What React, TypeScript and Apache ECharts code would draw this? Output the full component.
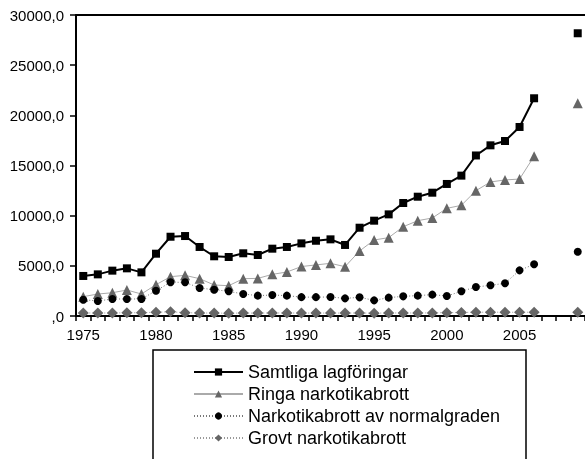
import React, { useEffect, useRef } from "react";
import * as echarts from "echarts";

const years: string[] = [];
for (let y = 1975; y <= 2009; y++) years.push(String(y));

const samtliga = [3990, 4150, 4520, 4750, 4350, 6210, 7900, 7970, 6880, 5950, 5880, 6250, 6080, 6710, 6880, 7240, 7500, 7640, 7080, 8800, 9500, 10130, 11260, 11890, 12290, 13160, 13990, 16000, 17010, 17440, 18840, 21700, null, null, 28180];
const ringa = [1930, 2190, 2320, 2590, 2190, 3120, 3920, 4050, 3720, 3090, 3020, 3720, 3750, 4150, 4385, 4930, 5090, 5250, 4915, 6480, 7575, 7810, 8900, 9500, 9770, 10730, 11030, 12490, 13360, 13560, 13650, 15920, null, null, 21200];
const normal = [1625, 1495, 1695, 1695, 1695, 2520, 3360, 3360, 2790, 2620, 2460, 2190, 2030, 2090, 2030, 1880, 1880, 1895, 1760, 1860, 1560, 1830, 1960, 2030, 2130, 1990, 2460, 2890, 3060, 3260, 4550, 5150, null, null, 6410];
const grovt = [300, 300, 300, 320, 330, 380, 420, 330, 300, 290, 280, 290, 290, 300, 300, 290, 290, 290, 290, 300, 280, 300, 300, 300, 310, 330, 350, 380, 380, 380, 370, 380, null, null, 380];

const names = ["Samtliga lagföringar", "Ringa narkotikabrott", "Narkotikabrott av normalgraden", "Grovt narkotikabrott"];
const FONT = "'Liberation Sans', Arial, sans-serif";

export default function App() {
  const ref = useRef<HTMLDivElement>(null);
  useEffect(() => {
    const chart = echarts.init(ref.current!, null, { renderer: "svg" });
    chart.setOption({
      animation: false,
      textStyle: { fontFamily: FONT },
      grid: { left: 76, top: 15, width: 510, height: 301, containLabel: false },
      graphic: [
        {
          type: "rect",
          shape: { x: 153, y: 350, width: 373, height: 140 },
          style: { fill: "#fff", stroke: "#000", lineWidth: 1.5 },
          z: 0,
        },
      ],
      legend: {
        orient: "vertical",
        left: 193,
        top: 363,
        padding: 0,
        itemWidth: 49,
        itemHeight: 9,
        itemGap: 4,
        data: names,
        textStyle: { fontFamily: FONT, fontSize: 18, color: "#000", lineHeight: 18 },
        z: 5,
      },
      xAxis: [
        {
          type: "category",
          data: years,
          boundaryGap: true,
          axisLine: { lineStyle: { color: "#000", width: 2 } },
          axisTick: { show: true, interval: 0, length: 5, lineStyle: { color: "#000", width: 1.5 } },
          axisLabel: { interval: 4, color: "#000", fontSize: 15, fontFamily: FONT, margin: 11 },
          splitLine: { show: false },
        },
        {
          type: "category",
          data: years,
          position: "top",
          axisLine: { lineStyle: { color: "#000", width: 2 } },
          axisTick: { show: false },
          axisLabel: { show: false },
        },
      ],
      yAxis: {
        type: "value",
        min: 0,
        max: 30000,
        interval: 5000,
        axisLine: { show: true, lineStyle: { color: "#000", width: 2 } },
        axisTick: { show: true, length: 6, lineStyle: { color: "#000", width: 1.5 } },
        axisLabel: {
          color: "#000",
          fontSize: 15,
          fontFamily: FONT,
          margin: 12,
          formatter: (v: number) => (v === 0 ? ",0" : v + ",0"),
        },
        splitLine: { show: false },
      },
      series: [
        {
          name: names[0],
          type: "line",
          data: samtliga,
          symbol: "rect",
          symbolSize: 8,
          showAllSymbol: true,
          itemStyle: { color: "#000" },
          lineStyle: { color: "#000", width: 2 },
          z: 4,
        },
        {
          name: names[1],
          type: "line",
          data: ringa,
          symbol: "triangle",
          symbolSize: 10,
          showAllSymbol: true,
          itemStyle: { color: "#666" },
          lineStyle: { color: "#aaa", width: 1, type: "solid" },
          z: 3,
        },
        {
          name: names[2],
          type: "line",
          data: normal,
          symbol: "circle",
          symbolSize: 8,
          showAllSymbol: true,
          itemStyle: { color: "#000" },
          lineStyle: { color: "#777", width: 1, type: [1, 2] },
          z: 3,
        },
        {
          name: names[3],
          type: "line",
          data: grovt,
          symbol: "diamond",
          symbolSize: 11,
          showAllSymbol: true,
          itemStyle: { color: "#666" },
          lineStyle: { color: "#999", width: 1, type: [1, 2] },
          z: 2,
        },
      ],
    });
    return () => chart.dispose();
  }, []);
  return <div ref={ref} style={{ position: "fixed", left: 0, top: 0, width: 585, height: 459 }} />;
}
